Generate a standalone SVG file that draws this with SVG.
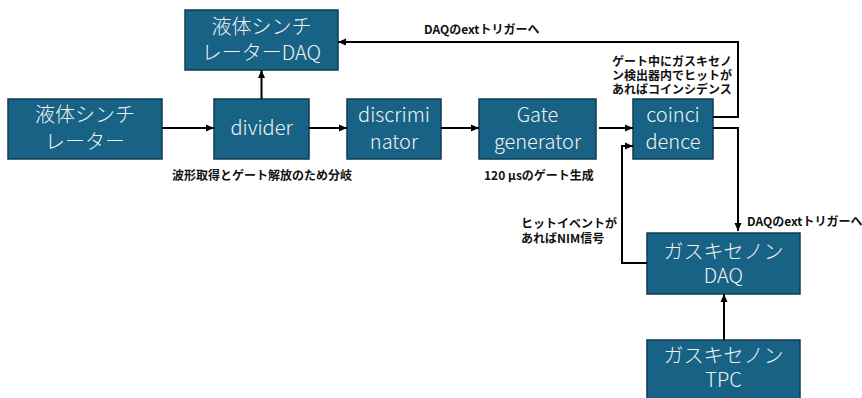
<svg xmlns="http://www.w3.org/2000/svg" width="862" height="398" viewBox="0 0 862 398">
<defs>
<marker id="arr" markerUnits="userSpaceOnUse" markerWidth="10" markerHeight="10" refX="9" refY="5" orient="auto">
<path d="M1,1.5 L9,5 L1,8.5 Z" fill="#000"/>
</marker>
<style>
.box{fill:#176285;stroke:#0e3c52;stroke-width:1.5}
.bt{font-family:"Noto Sans CJK JP","Noto Sans",sans-serif;font-weight:300;font-size:20px;fill:#f2f2f2;text-anchor:middle}
.lb{font-family:"Noto Sans CJK JP","Noto Sans",sans-serif;font-weight:700;font-size:12px;fill:#111}
.cn{fill:none;stroke:#000;stroke-width:2;marker-end:url(#arr)}
</style>
</defs>
<rect width="862" height="398" fill="#fff"/>
<g id="ls-daq"><rect class="box" x="185" y="10" width="153" height="60"/><text class="bt" x="261.5" y="34">液体シンチ</text><text class="bt" x="261.5" y="60">レーターDAQ</text></g>
<g id="ls"><rect class="box" x="8" y="99" width="154" height="60"/><text class="bt" x="85" y="122">液体シンチ</text><text class="bt" x="85" y="149">レーター</text></g>
<g id="divider"><rect class="box" x="214" y="99" width="95" height="60"/><text class="bt" x="261.5" y="135">divider</text></g>
<g id="discriminator"><rect class="box" x="347" y="99" width="94" height="60"/><text class="bt" x="394" y="122">discrimi</text><text class="bt" x="394" y="149">nator</text></g>
<g id="gate"><rect class="box" x="479" y="99" width="117" height="60"/><text class="bt" x="537.5" y="122">Gate</text><text class="bt" x="537.5" y="149">generator</text></g>
<g id="coincidence"><rect class="box" x="633" y="99" width="80" height="60"/><text class="bt" x="673" y="122">coinci</text><text class="bt" x="673" y="149">dence</text></g>
<g id="gx-daq"><rect class="box" x="647" y="233" width="153" height="61"/><text class="bt" x="723.5" y="259">ガスキセノン</text><text class="bt" x="723.5" y="283">DAQ</text></g>
<g id="gx-tpc"><rect class="box" x="647" y="340" width="153" height="62"/><text class="bt" x="723.5" y="363">ガスキセノン</text><text class="bt" x="723.5" y="387">TPC</text></g>
<g id="connectors">
<path class="cn" d="M162,128 H214"/>
<path class="cn" d="M309,128 H347"/>
<path class="cn" d="M441,128 H479"/>
<path class="cn" d="M599,128 H633"/>
<path class="cn" d="M261.5,99 V70"/>
<path class="cn" d="M713,117 H738 V42 H338"/>
<path class="cn" d="M713,128 H738 V231"/>
<path class="cn" d="M647,263 H622 V146 H633"/>
<path class="cn" d="M724,340 V294"/>
</g>
<g id="labels">
<text class="lb" x="424" y="34">DAQのextトリガーへ</text>
<text class="lb" x="612" y="66">ゲート中にガスキセノ</text>
<text class="lb" x="612" y="80">ン検出器内でヒットが</text>
<text class="lb" x="612" y="94">あればコインシデンス</text>
<text class="lb" x="172" y="180">波形取得とゲート解放のため分岐</text>
<text class="lb" x="484" y="180">120 μsのゲート生成</text>
<text class="lb" x="747" y="226">DAQのextトリガーへ</text>
<text class="lb" x="521" y="228">ヒットイベントが</text>
<text class="lb" x="521" y="243">あればNIM信号</text>
</g>
</svg>
